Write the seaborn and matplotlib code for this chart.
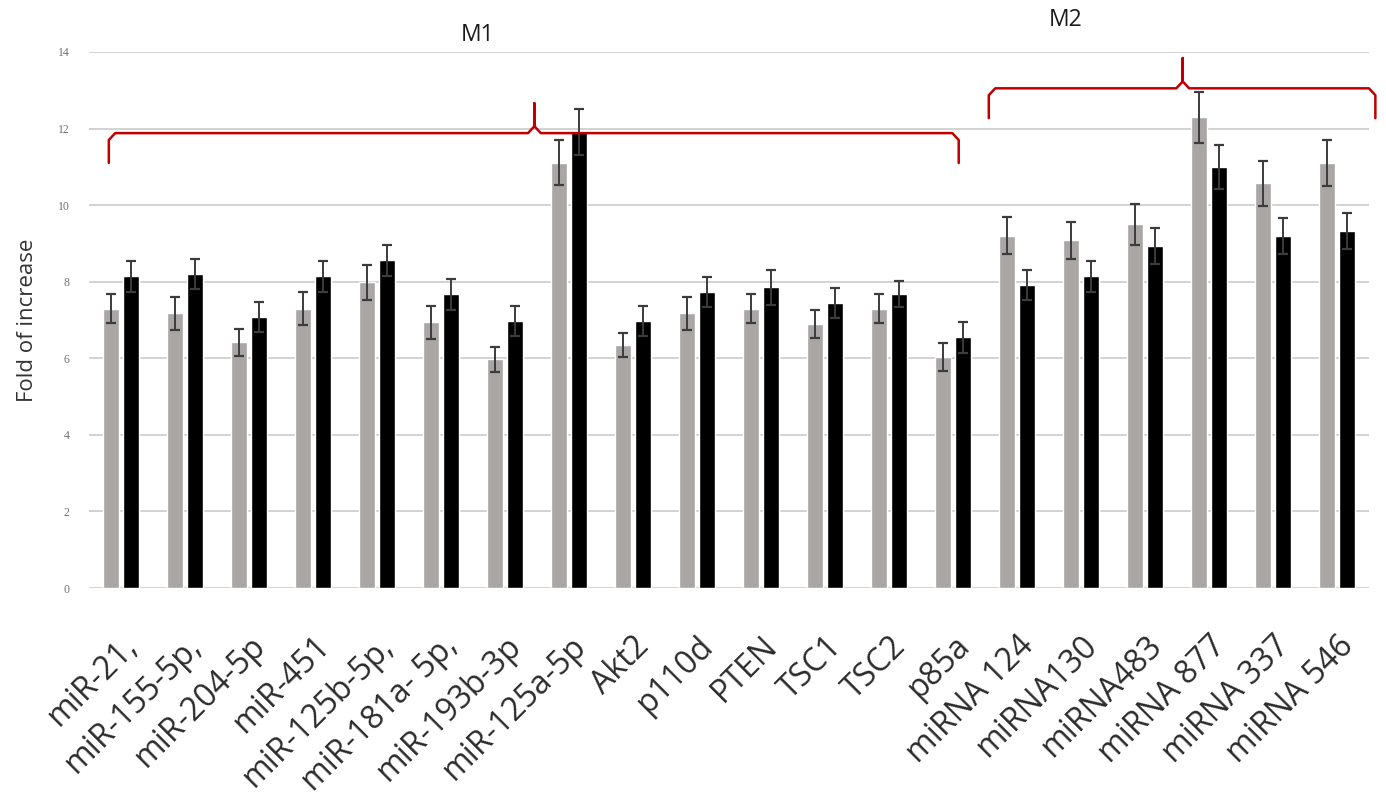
import numpy as np
import pandas as pd
import seaborn as sns
from matplotlib import pyplot as plt

# data
genes = ["miR-21,", "miR-155-5p,", "miR-204-5p", "miR-451", "miR-125b-5p,",
         "miR-181a- 5p,", "miR-193b-3p", "miR-125a-5p", "Akt2", "p110d",
         "PTEN", "TSC1", "TSC2", "p85a", "miRNA 124", "miRNA130",
         "miRNA483", "miRNA 877", "miRNA 337", "miRNA 546"]
gray_vals = [7.30, 7.18, 6.42, 7.30, 7.98, 6.94, 5.97, 11.11, 6.34, 7.18,
             7.30, 6.89, 7.30, 6.04, 9.20, 9.08, 9.50, 12.29, 10.57, 11.09]
black_vals = [8.14, 8.20, 7.08, 8.14, 8.56, 7.67, 6.97, 11.91, 6.97, 7.74,
              7.85, 7.44, 7.68, 6.55, 7.92, 8.14, 8.92, 11.00, 9.20, 9.33]
gray_err = [0.37, 0.43, 0.35, 0.42, 0.45, 0.43, 0.32, 0.59, 0.31, 0.43,
            0.37, 0.36, 0.37, 0.37, 0.48, 0.48, 0.53, 0.67, 0.59, 0.60]
black_err = [0.41, 0.40, 0.40, 0.41, 0.41, 0.40, 0.40, 0.61, 0.40, 0.39,
             0.46, 0.40, 0.34, 0.40, 0.39, 0.41, 0.47, 0.58, 0.47, 0.47]
series = ["S1", "S2"]
yticks = [0, 2, 4, 6, 8, 10, 12, 14]

# brace annotations (data coords): x start, x tip, x end, y line, y tip, y ends
brace_m1 = (-0.19, 6.46, 13.09, 11.88, 12.66, 11.10)
brace_m2 = (13.56, 16.59, 19.60, 13.05, 13.84, 12.27)

df = pd.DataFrame({
    'gene': genes * 2,
    'series': [series[0]] * len(genes) + [series[1]] * len(genes),
    'value': gray_vals + black_vals,
})

sns.set_style('white')
fig = plt.figure(figsize=(13.86, 7.99), dpi=100)
ax = fig.add_axes([0.0642, 0.264, 0.9235, 0.671])

sns.barplot(data=df, x='gene', y='value', hue='series', order=genes,
            hue_order=series, palette=['#aba6a6', '#000000'],
            width=0.62, gap=0.22, errorbar=None, legend=False,
            saturation=1, ax=ax, zorder=2)

for cont, err in zip(ax.containers, [gray_err, black_err]):
    xs = [p.get_x() + p.get_width() / 2 for p in cont]
    hs = [p.get_height() for p in cont]
    ax.errorbar(xs, hs, yerr=err, fmt='none', ecolor='#3c3c3c',
                elinewidth=1.4, capsize=3.5, capthick=1.6, zorder=3)

ax.set_ylim(0, 14)
ax.set_xlim(-0.5, 19.5)
ax.set_yticks(yticks)
ax.yaxis.grid(True, color='#d2d2d2', lw=1.4, zorder=0)
ax.set_axisbelow(True)
sns.despine(ax=ax, left=True, bottom=True)
ax.tick_params(axis='both', length=0)
ax.tick_params(axis='y', pad=14)
ax.tick_params(axis='x', pad=30)

for t in ax.get_yticklabels():
    t.set_family('Liberation Serif')
    t.set_fontsize(8.5)
    t.set_color('#707070')

ax.set_xticks(range(len(genes)))
ax.set_xticklabels(genes, rotation=45, ha='right', va='top',
                   rotation_mode='anchor', fontsize=23, color='#2b2b2b',
                   family='Open Sans')
ax.set_xlabel('')
ax.set_ylabel('Fold of increase', fontsize=16, color='#333333',
              family='Open Sans', labelpad=14)


def brace(xa, xt, xb, yl, yt, ye):
    dx, dy = 0.1, 0.18
    xs = [xa, xa, xa + dx, xt - dx, xt, xt, xt, xt + dx, xb - dx, xb, xb]
    ys = [ye, yl - dy, yl, yl, yl + dy, yt, yl + dy, yl, yl, yl - dy, ye]
    ax.plot(xs, ys, color='#c00000', lw=1.8, clip_on=False, zorder=4,
            solid_joinstyle='round')


brace(*brace_m1)
brace(*brace_m2)

fig.text(478 / 1386, 1 - 35 / 799, 'M1', ha='center', va='center',
         fontsize=16.5, color='#1a1a1a', family='Open Sans')
fig.text(1066 / 1386, 1 - 20 / 799, 'M2', ha='center', va='center',
         fontsize=16.5, color='#1a1a1a', family='Open Sans')

fig.savefig('out.png', dpi=100)
